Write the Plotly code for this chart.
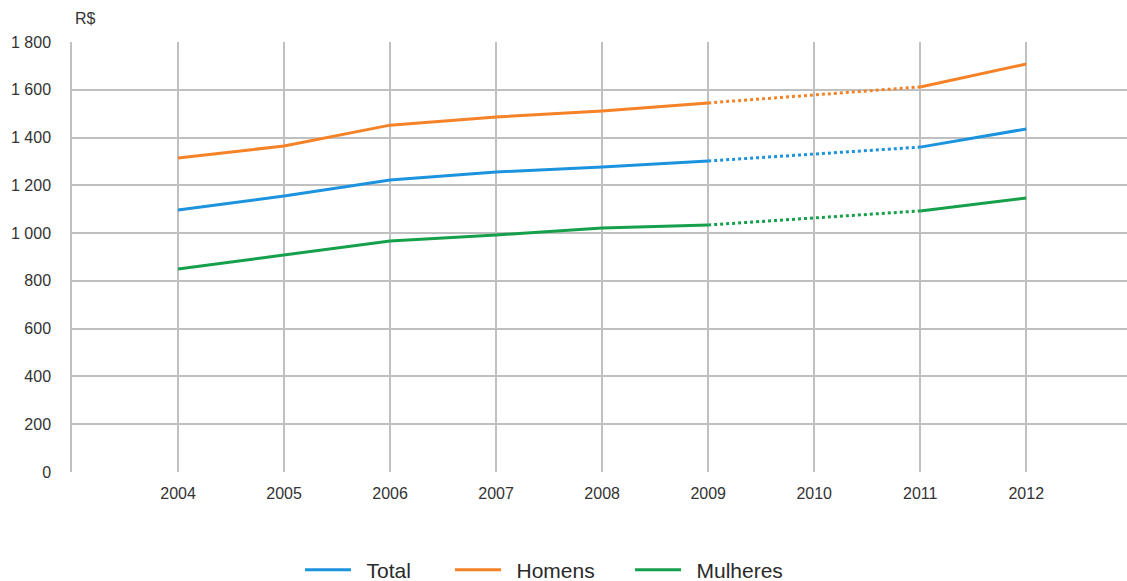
import plotly.graph_objects as go

anos = [2004, 2005, 2006, 2007, 2008, 2009, 2010, 2011, 2012]
total = [1097, 1155, 1222, 1256, 1277, 1302, 1331, 1360, 1436]
homens = [1314, 1365, 1452, 1486, 1511, 1545, 1578, 1612, 1708]
mulheres = [850, 908, 967, 992, 1021, 1034, 1063, 1093, 1147]

y_ticks = [0, 200, 400, 600, 800, 1000, 1200, 1400, 1600, 1800]
y_labels = ["0", "200", "400", "600", "800", "1 000", "1 200", "1 400", "1 600", "1 800"]

series = [
    ("Total", total, "#1c93de", "legend", 300),
    ("Homens", homens, "#f58226", "legend2", 450),
    ("Mulheres", mulheres, "#16a04b", "legend3", 630),
]

# solid up to 2009, dotted 2009-2011, solid again 2011-2012
i09 = anos.index(2009)
i11 = anos.index(2011)

fig = go.Figure()
for nome, vals, cor, leg, _ in series:
    rotulo = "\u2002" + nome  # a little breathing room after the legend line
    fig.add_trace(go.Scatter(
        x=anos[:i09 + 1], y=vals[:i09 + 1], mode="lines", name=rotulo,
        legendgroup=nome, legend=leg, line=dict(color=cor, width=3), showlegend=True,
    ))
    fig.add_trace(go.Scatter(
        x=anos[i09:i11 + 1], y=vals[i09:i11 + 1], mode="lines", name=rotulo,
        legendgroup=nome, legend=leg, line=dict(color=cor, width=3, dash="dot"),
        showlegend=False,
    ))
    fig.add_trace(go.Scatter(
        x=anos[i11:], y=vals[i11:], mode="lines", name=rotulo,
        legendgroup=nome, legend=leg, line=dict(color=cor, width=3), showlegend=False,
    ))

legend_style = dict(
    orientation="h", xref="container", yref="container", xanchor="left",
    y=11 / 581, yanchor="middle", font=dict(size=21, color="#2a2a2a"),
    itemwidth=46, bgcolor="rgba(0,0,0,0)",
)
legends = {}
for nome, _, _, leg, xpos in series:
    legends[leg] = dict(legend_style, x=xpos / 1127)

fig.update_layout(
    width=1127, height=581,
    margin=dict(l=72, r=0, t=42, b=109, autoexpand=False),
    paper_bgcolor="white", plot_bgcolor="white",
    font=dict(family="Liberation Sans, Arial, sans-serif", color="#333333", size=16),
    showlegend=True,
    xaxis=dict(
        range=[2003, 2012.95], tickvals=anos, ticktext=[str(a) for a in anos],
        showgrid=True, gridcolor="#c0c0c0", gridwidth=1.5,
        showline=False, zeroline=False, ticks="", ticklabelstandoff=10,
        tickfont=dict(size=16, color="#333333"),
    ),
    yaxis=dict(
        range=[0, 1800], tickvals=y_ticks, ticktext=y_labels,
        showgrid=True, gridcolor="#c0c0c0", gridwidth=1.5,
        showline=True, linecolor="#c0c0c0", linewidth=1.5,
        zeroline=False, ticks="", ticklabelstandoff=16,
        tickfont=dict(size=16, color="#333333"),
    ),
    annotations=[dict(
        text="R$", xref="paper", yref="paper", x=0.001, y=1, xanchor="left",
        yanchor="bottom", yshift=13, showarrow=False,
        font=dict(size=16, color="#333333"),
    )],
    **legends,
)

fig.write_html("out.html")
